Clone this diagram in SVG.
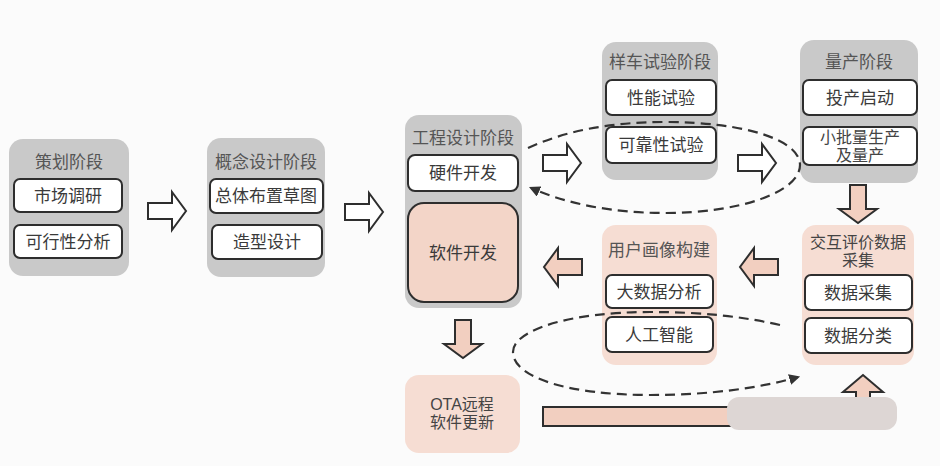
<svg xmlns="http://www.w3.org/2000/svg" width="940" height="466" viewBox="0 0 940 466">
<defs>
<style>
.stage{fill:#c9c9c9}
.pstage{fill:#f6ddd3}
.item{fill:#fff;stroke:#2e2e2e;stroke-width:2}
.pitem{fill:#f3d5c8;stroke:#2e2e2e;stroke-width:2}
.t{font-family:"Noto Sans CJK SC","Liberation Sans",sans-serif;font-size:17px;text-anchor:middle;fill:#3a3a3a}
.tt{font-family:"Noto Sans CJK SC","Liberation Sans",sans-serif;font-size:17px;text-anchor:middle;fill:#555}
.t2{font-family:"Liberation Sans","Noto Sans CJK SC",sans-serif;font-size:16px;text-anchor:middle;fill:#444}
.harrow{fill:#fff;stroke:#2e2e2e;stroke-width:2;stroke-linejoin:miter}
.parrow{fill:#f2cfc0;stroke:#2e2e2e;stroke-width:2;stroke-linejoin:miter}
.dash{fill:none;stroke:#333;stroke-width:2.2;stroke-dasharray:10 6}
</style>
<path id="arr" d="M0,-8 H24 V-19 L38,0 L24,19 V8 H0 Z"/>
<marker id="mh" viewBox="0 0 10 10" refX="8" refY="5" markerWidth="5" markerHeight="5" orient="auto" markerUnits="strokeWidth">
<path d="M0,0 L10,5 L0,10 Z" fill="#333"/>
</marker>
</defs>
<rect width="940" height="466" fill="#fbfbfb"/>

<g id="plan">
<rect class="stage" x="9" y="139" width="120" height="137" rx="14"/>
<text class="tt" x="69" y="168">策划阶段</text>
<rect class="item" x="14" y="179" width="108" height="33" rx="6"/>
<text class="t" x="68" y="202">市场调研</text>
<rect class="item" x="14" y="225" width="108" height="33" rx="6"/>
<text class="t" x="68" y="248">可行性分析</text>
</g>

<g id="concept">
<rect class="stage" x="207" y="138" width="118" height="139" rx="14"/>
<text class="tt" x="266" y="168">概念设计阶段</text>
<rect class="item" x="210" y="179" width="113" height="34" rx="6"/>
<text class="t" x="266" y="202">总体布置草图</text>
<rect class="item" x="212" y="225" width="110" height="34" rx="6"/>
<text class="t" x="267" y="248">造型设计</text>
</g>

<g id="engineering">
<rect class="stage" x="405" y="115" width="117" height="193" rx="14"/>
<text class="tt" x="463" y="144">工程设计阶段</text>
<rect class="item" x="408" y="155" width="110" height="36" rx="7"/>
<text class="t" x="463" y="179">硬件开发</text>
<rect class="pitem" x="408" y="203" width="110" height="99" rx="16"/>
<text class="t" x="463" y="259">软件开发</text>
</g>

<g id="prototype">
<rect class="stage" x="602" y="42" width="116" height="138" rx="14"/>
<text class="tt" x="660" y="68">样车试验阶段</text>
<rect class="item" x="606" y="80" width="110" height="35" rx="6"/>
<text class="t" x="661" y="104">性能试验</text>
<rect class="item" x="606" y="127" width="110" height="36" rx="6"/>
<text class="t" x="661" y="151">可靠性试验</text>
</g>

<g id="production">
<rect class="stage" x="800" y="40" width="118" height="143" rx="14"/>
<text class="tt" x="859" y="68">量产阶段</text>
<rect class="item" x="803" y="80" width="114" height="35" rx="6"/>
<text class="t" x="860" y="104">投产启动</text>
<rect class="item" x="803" y="127" width="114" height="38" rx="6"/>
<text class="t2" x="860" y="143">小批量生产</text>
<text class="t2" x="860" y="161">及量产</text>
</g>

<g id="interaction">
<rect class="pstage" x="802" y="225" width="112" height="140" rx="14"/>
<text class="t2" x="858" y="248">交互评价数据</text>
<text class="t2" x="858" y="266">采集</text>
<rect class="item" x="805" y="275" width="107" height="35" rx="6"/>
<text class="t" x="858" y="299">数据采集</text>
<rect class="item" x="805" y="318" width="107" height="35" rx="6"/>
<text class="t" x="858" y="342">数据分类</text>
</g>

<g id="profile">
<rect class="pstage" x="602" y="225" width="115" height="140" rx="14"/>
<text class="tt" x="659" y="256">用户画像构建</text>
<rect class="item" x="606" y="275" width="107" height="33" rx="6"/>
<text class="t" x="659" y="298">大数据分析</text>
<rect class="item" x="606" y="317" width="107" height="35" rx="6"/>
<text class="t" x="659" y="341">人工智能</text>
</g>

<g id="ota">
<rect class="pstage" x="405" y="375" width="115" height="78" rx="14"/>
<text class="t2" x="462" y="410">OTA远程</text>
<text class="t2" x="462" y="428">软件更新</text>
</g>

<g id="connectors">
<use href="#arr" class="harrow" transform="translate(148,211)"/>
<use href="#arr" class="harrow" transform="translate(345,212)"/>
<use href="#arr" class="harrow" transform="translate(543,163)"/>
<use href="#arr" class="harrow" transform="translate(738,163)"/>
<use href="#arr" class="parrow" transform="translate(858,185) rotate(90)"/>
<use href="#arr" class="parrow" transform="translate(778,267) scale(-1,1)"/>
<use href="#arr" class="parrow" transform="translate(582,267) scale(-1,1)"/>
<use href="#arr" class="parrow" transform="translate(463,320) rotate(90)"/>
<path class="parrow" d="M543,407 H856 V392 H843 L863,375 L883,392 H870 V426 H543 Z"/>
<path class="dash" marker-end="url(#mh)" d="M528,148 C565,131 610,122 665,122 C745,122 800,140 800,165 C800,192 740,213 665,213 C610,213 565,203 531,188"/>
<path class="dash" marker-end="url(#mh)" d="M780,325 C740,316 700,312 650,312 C570,312 513,330 513,352 C513,378 570,395 650,395 C710,395 760,388 798,377"/>
</g>

<rect x="727" y="397" width="170" height="33" rx="12" fill="#ddd6d4"/>
</svg>
